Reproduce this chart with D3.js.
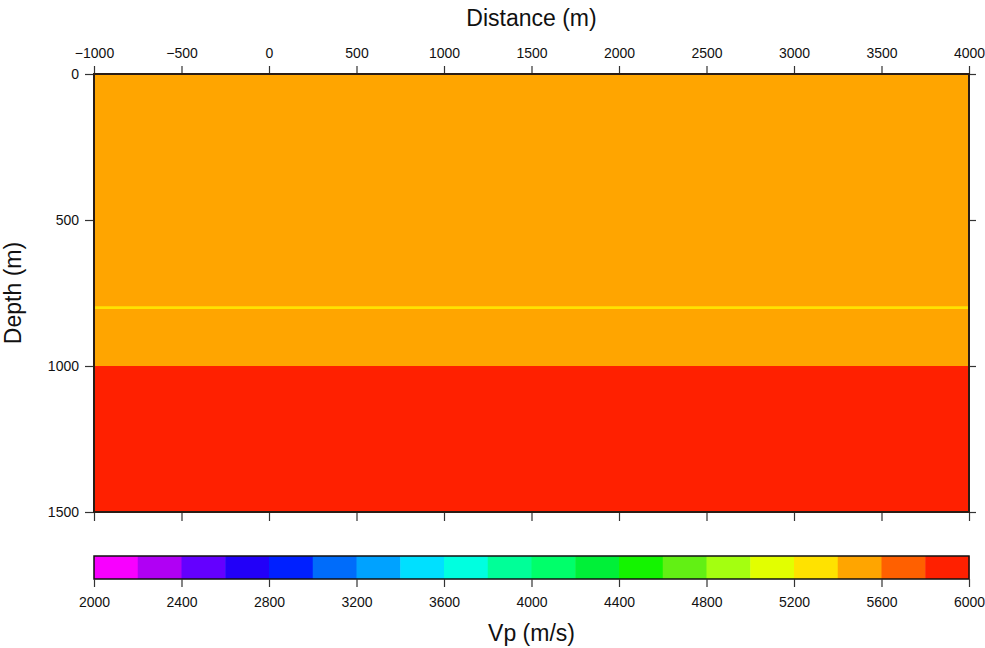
<!DOCTYPE html>
<html>
<head>
<meta charset="utf-8">
<script src="https://cdn.jsdelivr.net/npm/d3@7"></script>
<style>
  html, body { margin: 0; padding: 0; background: #fff; }
  svg { display: block; font-family: "Liberation Sans", Arial, Helvetica, sans-serif; }
</style>
</head>
<body>
<svg id="chart" width="985" height="648"></svg>
<script>
// Velocity model: layered Vp section
const distanceTicks = [-1000, -500, 0, 500, 1000, 1500, 2000, 2500, 3000, 3500, 4000];
const depthTicks = [0, 500, 1000, 1500];
const layerTop = [0, 1000];
const layerBottom = [1000, 1500];
const layerVp = [5500, 5900];
// thin high-contrast interface inside the upper layer
const interfaceDepth = [800];
const interfaceVp = [5300];

// colour palette: 20 bins from 2000 to 6000 m/s
const vpBreaks = [2000, 2200, 2400, 2600, 2800, 3000, 3200, 3400, 3600, 3800, 4000,
                  4200, 4400, 4600, 4800, 5000, 5200, 5400, 5600, 5800, 6000];
const vpColors = ["#f800ff", "#b000f4", "#6400ff", "#2200f8", "#0020ff", "#006cfa",
                  "#00a2ff", "#00e0ff", "#00ffe0", "#00ff98", "#00ff6a", "#00f038",
                  "#14f400", "#62f014", "#a4ff10", "#e2ff00", "#ffe200", "#ffa500",
                  "#ff6000", "#ff2000"];
const colorbarTicks = [2000, 2400, 2800, 3200, 3600, 4000, 4400, 4800, 5200, 5600, 6000];

const svg = d3.select("#chart");
const mL = 94, mR = 969, mT = 74, mB = 512;

const x = d3.scaleLinear().domain([-1000, 4000]).range([mL, mR]);
const y = d3.scaleLinear().domain([0, 1500]).range([mT, mB]);
const color = d3.scaleThreshold()
  .domain(vpBreaks.slice(1, -1))
  .range(vpColors);

// layers
const layers = layerTop.map((t, i) => ({ t: t, b: layerBottom[i], vp: layerVp[i] }));
svg.append("g").selectAll("rect").data(layers).join("rect")
  .attr("x", x(-1000)).attr("width", x(4000) - x(-1000))
  .attr("y", d => y(d.t)).attr("height", d => y(d.b) - y(d.t))
  .attr("fill", d => color(d.vp));

svg.append("g").selectAll("line").data(interfaceDepth).join("line")
  .attr("x1", x(-1000)).attr("x2", x(4000))
  .attr("y1", d => y(d)).attr("y2", d => y(d))
  .attr("stroke", (d, i) => color(interfaceVp[i])).attr("stroke-width", 2.6);

// axes (ticks outward on all sides)
function styleAxis(g) {
  g.select(".domain").remove();
  g.selectAll(".tick line").attr("stroke", "#333").attr("stroke-width", 1.2);
  g.selectAll(".tick text").attr("fill", "#111").style("font-size", "14px")
    .style("font-family", "'Liberation Sans', Arial, sans-serif");
}
const fmt = d => d < 0 ? "\u2212" + Math.abs(d) : String(d);

svg.append("g").attr("transform", `translate(0,${mT})`)
  .call(d3.axisTop(x).tickValues(distanceTicks).tickFormat(fmt).tickSize(8).tickPadding(8))
  .call(styleAxis);
svg.append("g").attr("transform", `translate(0,${mB})`)
  .call(d3.axisBottom(x).tickValues(distanceTicks).tickFormat("").tickSize(9))
  .call(styleAxis);
svg.append("g").attr("transform", `translate(${mL},0)`)
  .call(d3.axisLeft(y).tickValues(depthTicks).tickFormat(fmt).tickSize(9).tickPadding(6))
  .call(styleAxis);
svg.append("g").attr("transform", `translate(${mR},0)`)
  .call(d3.axisRight(y).tickValues(depthTicks).tickFormat("").tickSize(7))
  .call(styleAxis);

// frame
svg.append("rect")
  .attr("x", mL).attr("y", mT).attr("width", mR - mL).attr("height", mB - mT)
  .attr("fill", "none").attr("stroke", "#2a1c14").attr("stroke-width", 2);

// axis titles
svg.append("text").attr("x", (mL + mR) / 2).attr("y", 26)
  .attr("text-anchor", "middle").style("font-size", "23px").attr("fill", "#111")
  .text("Distance (m)");
svg.append("text").attr("transform", `translate(21,${(mT + mB) / 2}) rotate(-90)`)
  .attr("text-anchor", "middle").style("font-size", "23px").attr("fill", "#111")
  .text("Depth (m)");

// colour bar
const cbT = 556, cbB = 579;
const cx = d3.scaleLinear().domain([2000, 6000]).range([mL, mR]);
const bins = vpColors.map((c, i) => ({ lo: vpBreaks[i], hi: vpBreaks[i + 1], c }));
svg.append("g").selectAll("rect").data(bins).join("rect")
  .attr("x", d => cx(d.lo)).attr("width", d => cx(d.hi) - cx(d.lo) + 0.5)
  .attr("y", cbT).attr("height", cbB - cbT)
  .attr("fill", d => d.c);
svg.append("rect")
  .attr("x", mL).attr("y", cbT).attr("width", mR - mL).attr("height", cbB - cbT)
  .attr("fill", "none").attr("stroke", "#111").attr("stroke-width", 1.5);
svg.append("g").attr("transform", `translate(0,${cbB})`)
  .call(d3.axisBottom(cx).tickValues(colorbarTicks).tickFormat(d3.format("d")).tickSize(8).tickPadding(10))
  .call(styleAxis);
svg.append("text").attr("x", (mL + mR) / 2).attr("y", 641)
  .attr("text-anchor", "middle").style("font-size", "23px").attr("fill", "#111")
  .text("Vp (m/s)");
</script>
</body>
</html>
